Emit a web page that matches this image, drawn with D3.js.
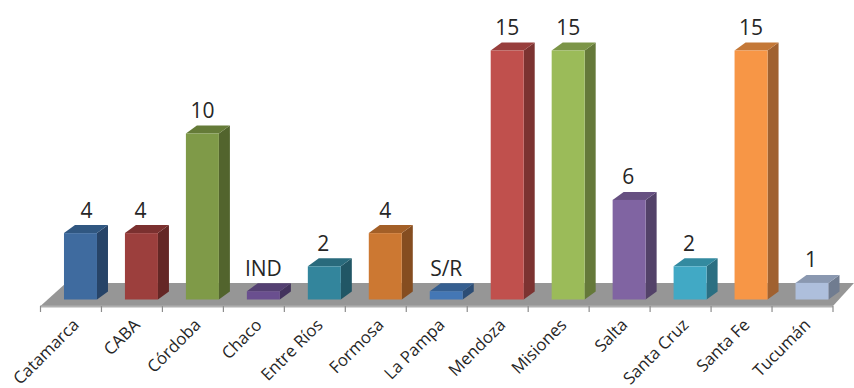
<!DOCTYPE html>
<html>
<head>
<meta charset="utf-8">
<script src="https://cdn.jsdelivr.net/npm/d3@7"></script>
<style>
html,body{margin:0;padding:0;background:#fff}
svg{display:block}
text{font-family:"Open Sans","Noto Sans",sans-serif;fill:#262626}
</style>
</head>
<body>
<svg id="chart" width="854" height="388"></svg>
<script>
const provinces = ["Catamarca","CABA","Córdoba","Chaco","Entre Ríos","Formosa","La Pampa","Mendoza","Misiones","Salta","Santa Cruz","Santa Fe","Tucumán"];
const barValues = [4,4,10,0.5,2,4,0.5,15,15,6,2,15,1];
const valueLabels = ["4","4","10","IND","2","4","S/R","15","15","6","2","15","1"];
const labelNudge = [6,-1,0,0,-1,0,0,0,0,-1,-1,0,-1];
const frontColors = ["#3f6b9f","#9c3f3d","#7f9a48","#6a4f8f","#33859c","#cc7832","#4477b5","#c0504d","#9bbb59","#8064a2","#41a9c5","#f79646","#aebfdc"];
const topColors = ["#305781","#7b302f","#657b38","#544072","#296a7c","#a35f27","#365f90","#983e3c","#7c9547","#665081","#338aa0","#c47837","#8a98b0"];
const sideColors = ["#274468","#642725","#52642d","#43335d","#215665","#854d20","#2c4d75","#7c3331","#65793a","#534269","#2b6f82","#a06130","#707c90"];

const depthX = 11, depthY = 8;
const floorFront = 299.5;
const barWidth = 33;

const x = d3.scaleBand().domain(provinces).range([40.5, 833]).padding(0);
const y = d3.scaleLinear().domain([0, 15]).range([floorFront, 50.5]);

const svg = d3.select("#chart");

// Floor slab
const floorY = 306, floorBack = 283;
svg.append("path")
  .attr("d", `M40.5,${floorY}L${x.range()[1]},${floorY}L854,${floorBack}L66,${floorBack}Z`)
  .attr("fill", "#969696");
svg.append("line")
  .attr("x1", 40).attr("x2", x.range()[1]).attr("y1", floorY + .5).attr("y2", floorY + .5)
  .attr("stroke", "#b0b0b0").attr("stroke-width", 2);

// Category axis: ticks on band edges, labels rotated by hand below
const tickEdges = provinces.map(p => x(p)).concat(x.range()[1]);
svg.selectAll("line.tick").data(tickEdges).join("line")
  .attr("class", "tick")
  .attr("x1", d => d).attr("x2", d => d)
  .attr("y1", floorY).attr("y2", 312)
  .attr("stroke", "#8c8c8c").attr("stroke-width", 1.2);

svg.selectAll("text.cat").data(provinces).join("text")
  .attr("class", "cat")
  .attr("text-anchor", "end")
  .attr("font-size", 16.8)
  .attr("transform", d => `translate(${x(d) + x.bandwidth() / 2 + 9},${326}) rotate(-45)`)
  .text(d => d);

// Extruded bars
const bars = svg.selectAll("g.bar").data(provinces).join("g").attr("class", "bar");
const left = (d) => x(d) + x.bandwidth() / 2 + 9.5 - barWidth / 2;

bars.append("path") // side face
  .attr("d", d => {
    const i = provinces.indexOf(d), r = left(d) + barWidth, t = y(barValues[i]);
    return `M${r},${t}L${r + depthX},${t - depthY}L${r + depthX},${floorFront - depthY}L${r},${floorFront}Z`;
  })
  .attr("fill", (d, i) => sideColors[i]);

bars.append("path") // top face
  .attr("d", d => {
    const i = provinces.indexOf(d), l = left(d), t = y(barValues[i]);
    return `M${l},${t}L${l + barWidth},${t}L${l + barWidth + depthX},${t - depthY}L${l + depthX},${t - depthY}Z`;
  })
  .attr("fill", (d, i) => topColors[i]);

bars.append("rect") // front face
  .attr("x", d => left(d))
  .attr("y", (d, i) => y(barValues[i]))
  .attr("width", barWidth)
  .attr("height", (d, i) => floorFront - y(barValues[i]))
  .attr("fill", (d, i) => frontColors[i]);

// Value labels above each bar
bars.append("text")
  .attr("text-anchor", "middle")
  .attr("font-size", 21)
  .attr("x", (d, i) => left(d) + barWidth / 2 + labelNudge[i])
  .attr("y", (d, i) => y(barValues[i]) - depthY - 7.5)
  .text((d, i) => valueLabels[i]);
</script>
</body>
</html>
